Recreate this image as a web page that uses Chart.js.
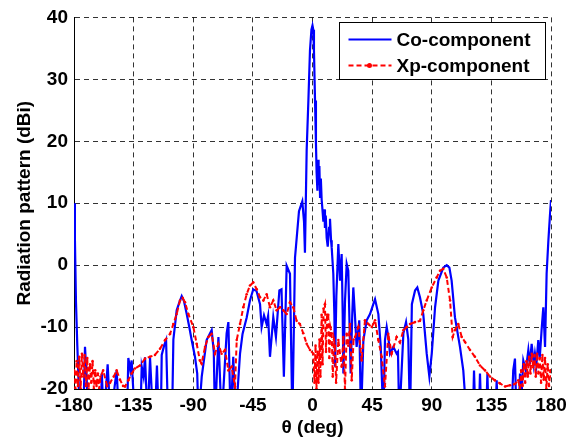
<!DOCTYPE html>
<html>
<head>
<meta charset="utf-8">
<script src="https://cdn.jsdelivr.net/npm/chart.js@4/dist/chart.umd.min.js"></script>
<style>
  body { margin: 0; background: #fff; }
  canvas { display: block; }
</style>
</head>
<body>
<canvas id="myChart" width="576" height="441"></canvas>
<script>
// --- data ---
const xTicks = [-180, -135, -90, -45, 0, 45, 90, 135, 180];
const yTicks = [-20, -10, 0, 10, 20, 30, 40];

const coAngles = [
  -180, -179.3, -178.5, -177.5, -176.5, -175.5, -173, -171.7, -170.5, -169,
  -160, -159, -157.5, -154.6, -152.5, -147.8, -146, -140, -139, -137.5,
  -136.5, -134, -130, -128.9, -127.5, -126.4, -124.5, -122.6, -121, -119,
  -117.4, -116, -114.5, -113.8, -112, -110.5, -109, -106, -105, -102.5,
  -100.5, -98.7, -97, -95, -93, -91.2, -88.7, -87, -86, -83.6,
  -79.9, -76.1, -74.5, -73.6, -71, -68.6, -64.8, -63.5, -61.8, -59.8,
  -58, -54.7, -52.8, -49.7, -47.2, -44.7, -42.2, -39.6, -38.4, -36.6,
  -34.7, -33.5, -32.1, -29.6, -27.6, -25, -23.4, -21.6, -19.5, -17,
  -15.2, -13.2, -10.2, -7.7, -6.4, -5.7, -4.4, -3.1, -1.9, -0.8,
  0, 0.6, 1.1, 1.9, 2.6, 3.1, 3.7, 4.2, 4.6, 5.2,
  5.7, 6.3, 6.9, 7.5, 8.2, 9, 9.4, 10, 10.7, 11.5,
  12.5, 13.2, 14, 14.5, 15.7, 16.5, 17, 18, 19.5, 20.8,
  22, 22.8, 23.3, 24.5, 25.8, 27, 28, 28.8, 30, 30.8,
  32, 33.3, 35.3, 36.6, 38.4, 40.9, 43.4, 45.9, 47.2, 49.7,
  51.5, 53.5, 54.7, 56, 57.2, 58.5, 61, 63.5, 64.5, 65.5,
  68.6, 70.6, 72.3, 73.6, 75, 77.4, 79.1, 81.1, 83.6, 86.2,
  88.2, 90, 92.5, 95, 98.7, 101.3, 103.3, 105, 107.5, 111.3,
  113.8, 116.4, 121, 121.9, 123, 125.5, 126.4, 127.5, 131, 132,
  133, 138, 139, 140, 150, 151.5, 152.8, 154, 155.5, 156.6,
  158, 159.1, 161, 162.9, 164, 165.4, 167, 167.9, 169, 170.4,
  171.5, 172.9, 174.2, 175.5, 176.7, 178, 179.2, 180
];
const coValues = [
  10, 4, -6, -13, -19, -25, -25, -13.2, -18, -25,
  -25, -17.5, -25, -16, -25, -17, -25, -25, -15, -17,
  -15.4, -25, -25, -16.4, -18, -14.9, -25, -15, -22, -25,
  -16.2, -25, -25, -14.5, -13, -12.1, -25, -25, -12, -7.3,
  -6, -5, -5.8, -7.8, -10, -12.1, -14.8, -17.5, -25, -18,
  -12.1, -10.5, -14, -25, -11.6, -25, -11, -9.2, -25, -14.8,
  -25, -14.3, -11.1, -8.5, -5.7, -3.9, -4.2, -6.3, -10, -8.1,
  -9.5, -8.2, -14.8, -8.4, -11.6, -4.1, -3.9, -18, -0.1, -1.4,
  -25, 1.2, 8.7, 10.3, 7, 2, 18.6, 26.6, 34.7, 38,
  38.7, 38, 34.7, 26.6, 19.7, 15, 12, 17, 13, 16,
  11, 14, 10.6, 9, 7, 9, 6, 8, 4.4, 3,
  6, 7.5, 4, 2.8, -1.4, -8, -16.4, -5, 3.4, -2.5,
  1.8, -8, -17.5, -6, 0.2, -0.9, -10, -17.5, -8, -3.6,
  -8, -13.2, -8.9, -25, -12.1, -8.9, -7.9, -6.3, -5.5, -7.9,
  -13.2, -25, -12.1, -10, -11.6, -14.3, -13.2, -14.3, -14, -25,
  -11, -9.2, -12, -25, -6.3, -4.1, -3.6, -5.2, -7.9, -14.3,
  -18, -14.3, -6.8, -2.5, -0.4, 0, -0.4, -2.5, -8.4, -13.2,
  -17, -25, -25, -17, -25, -25, -17.5, -25, -25, -17.5,
  -25, -25, -18.6, -25, -25, -17, -15.1, -25, -25, -17.5,
  -20, -15.4, -17, -13.7, -16, -12.7, -16, -14.3, -16, -12.1,
  -15, -10.5, -6.8, -13.2, -1.4, 3.9, 8, 10.5
];

const xpAngles = [
  -180, -179, -178, -177, -176, -175, -174, -173, -172, -171,
  -170, -169, -168, -167, -166, -165, -164, -163, -162, -161,
  -160, -158, -155, -152.8, -150, -147.8, -145.3, -143, -141.5, -139,
  -136.5, -134, -130.2, -126.4, -122.6, -118.9, -115.1, -111.3, -107.5, -105,
  -102.5, -100, -98, -96.2, -93.7, -89.9, -87.4, -85, -83.7, -81.1,
  -78.6, -76.1, -73.6, -71.1, -68.6, -66, -63.5, -61, -58.5, -57.2,
  -54.7, -52.2, -49.7, -47.2, -44.7, -42.1, -39.6, -37.1, -34.6, -32.1,
  -29.6, -27.1, -24.5, -22, -19.5, -17, -14.5, -12, -9.5, -7,
  -4.4, -1.9, 0.6, 1.5, 2.3, 3, 3.8, 4.5, 5.3, 6,
  6.9, 7.6, 8.4, 9.4, 10.2, 11, 11.9, 12.7, 13.5, 14.5,
  15.3, 16.2, 17, 17.8, 19.5, 22, 23.3, 24.5, 25.8, 27,
  28.3, 29.6, 31, 32.1, 34.6, 37.1, 39.6, 42.1, 44.7, 47.2,
  49.7, 52.2, 54.7, 57.2, 59.7, 63.5, 66, 68.6, 71.1, 73.6,
  77.4, 81.1, 83.6, 86.2, 90, 93.7, 96.2, 98.7, 101.3, 103.8,
  105.8, 107.5, 110, 112.6, 115.1, 118.9, 122.6, 126.4, 130.2, 134,
  137.7, 141.5, 145.3, 149.1, 152.8, 155.3, 156.6, 157.5, 158.5, 159.5,
  160.5, 161.5, 162.5, 163.5, 164.5, 165.5, 166.5, 167.5, 168.5, 169.5,
  170.5, 171.5, 172.5, 173.5, 174.5, 175.5, 176.5, 177.5, 178.5, 179.5,
  180
];
const xpValues = [
  -17, -20, -15.5, -19.5, -14.8, -20, -14.3, -18, -14.5, -19.5,
  -15, -20, -16, -19, -15.5, -20, -17, -19.5, -17.5, -20,
  -18, -17, -19.5, -19, -18, -17, -18.5, -19.5, -19.6, -18.6,
  -17.5, -16.7, -16.2, -15.1, -14.8, -14.5, -13.5, -12.1, -11.1, -9.5,
  -7.9, -5.7, -5.3, -6, -7.9, -10, -12.7, -15.4, -15.9, -13.2,
  -11.6, -11.1, -14.3, -12.7, -14.3, -13.7, -17, -16.4, -19.6, -12.1,
  -9.5, -6.8, -4.7, -3.3, -2.8, -3.9, -5.2, -5.7, -4.7, -6.8,
  -5.7, -7.3, -6.8, -7.3, -7.9, -6, -6.8, -9, -9.5, -11,
  -12.7, -13.7, -14.3, -19, -13, -20, -14, -19, -12, -18,
  -8, -16, -7, -6.3, -14, -8, -8, -15, -10, -11,
  -18, -12, -13, -19, -12.1, -16.4, -11.6, -20, -11.1, -13,
  -9.5, -18.6, -12, -11.6, -10, -15.4, -8.9, -9.5, -10, -8.9,
  -12.1, -14.8, -19.6, -11.1, -14.3, -11.6, -12.5, -10.5, -10, -9.5,
  -9.2, -9, -7.3, -5.7, -3.6, -2, -0.9, -0.6, -2, -5.7,
  -11.6, -10.5, -9.5, -11.6, -12.4, -13.7, -14.8, -16.2, -17, -18,
  -18.6, -19.1, -19.6, -19.4, -19.2, -18.6, -20, -17, -19.5, -16,
  -19, -15.5, -18, -14.8, -17.5, -14.3, -16.5, -14.5, -18, -14.3,
  -17.5, -15, -19, -14.5, -18.5, -15, -20, -16, -19.5, -17,
  -18
];

const titreX = '\u03b8 (deg)';
const titreY = 'Radiation pattern (dBi)';
const policeGras = { family: "'Liberation Sans', Arial, sans-serif", size: 19, weight: 'bold' };

// --- legende dessinee dans la zone du graphique (comme MATLAB) ---
const legendeInterne = {
  id: 'legendeInterne',
  afterDraw(chart) {
    const ctx = chart.ctx;
    const x0 = 339.5, y0 = 22.5, w = 206, h = 57;
    ctx.save();
    ctx.fillStyle = '#fff';
    ctx.fillRect(x0, y0, w, h);
    ctx.strokeStyle = '#000';
    ctx.lineWidth = 1;
    ctx.strokeRect(x0, y0, w, h);

    chart.data.datasets.forEach((ds, i) => {
      const y = y0 + 17 + i * 26;
      ctx.beginPath();
      ctx.strokeStyle = ds.borderColor;
      ctx.lineWidth = ds.borderWidth;
      ctx.setLineDash(ds.borderDash || []);
      ctx.moveTo(x0 + 9, y);
      ctx.lineTo(x0 + 52, y);
      ctx.stroke();
      ctx.setLineDash([]);
      if (ds.pointRadius > 0) {
        ctx.beginPath();
        ctx.fillStyle = ds.borderColor;
        ctx.arc(x0 + 30, y, 2.5, 0, Math.PI * 2);
        ctx.fill();
      }
      ctx.fillStyle = '#000';
      ctx.font = 'bold 19px "Liberation Sans", Arial, sans-serif';
      ctx.textBaseline = 'middle';
      ctx.fillText(ds.label, x0 + 57, y + 1);
    });
    ctx.restore();
  }
};

const ctx = document.getElementById('myChart').getContext('2d');
const myChartInstance = new Chart(ctx, {
  type: 'line',
  data: {
    datasets: [
      {
        label: 'Co-component',
        data: coAngles.map((a, i) => ({ x: a, y: coValues[i] })),
        borderColor: '#0000ff',
        borderWidth: 2.2,
        pointRadius: 0,
        tension: 0,
        order: 1
      },
      {
        label: 'Xp-component',
        data: xpAngles.map((a, i) => ({ x: a, y: xpValues[i] })),
        borderColor: '#ff0000',
        backgroundColor: '#ff0000',
        borderWidth: 2,
        borderDash: [5, 3],
        pointRadius: 1.3,
        pointBorderWidth: 0,
        tension: 0,
        order: 0
      }
    ]
  },
  options: {
    responsive: false,
    animation: false,
    layout: { padding: { left: 0, right: 25, top: 15, bottom: 0 } },
    plugins: { legend: { display: false }, tooltip: { enabled: false } },
    scales: {
      x: {
        type: 'linear',
        min: -180,
        max: 180,
        afterBuildTicks: (scale) => { scale.ticks = xTicks.map(v => ({ value: v })); },
        afterFit: (scale) => { scale.height = 52; },
        ticks: { color: '#000', font: policeGras, padding: 5, maxRotation: 0 },
        grid: { color: 'rgba(0,0,0,0.8)', lineWidth: 1, drawTicks: false },
        border: { display: true, color: '#000', width: 1, dash: [5, 4] },
        title: { display: true, text: titreX, color: '#000', font: policeGras, padding: { top: 0, bottom: 2 } }
      },
      y: {
        min: -20,
        max: 40,
        afterBuildTicks: (scale) => { scale.ticks = yTicks.map(v => ({ value: v })); },
        afterFit: (scale) => { scale.width = 74; },
        ticks: { color: '#000', font: policeGras, padding: 6 },
        grid: { color: 'rgba(0,0,0,0.8)', lineWidth: 1, drawTicks: false },
        border: { display: true, color: '#000', width: 1, dash: [5, 4] },
        title: { display: true, text: titreY, color: '#000', font: policeGras, padding: { top: 13, bottom: 0 } }
      }
    }
  },
  plugins: [legendeInterne]
});
</script>
</body>
</html>
